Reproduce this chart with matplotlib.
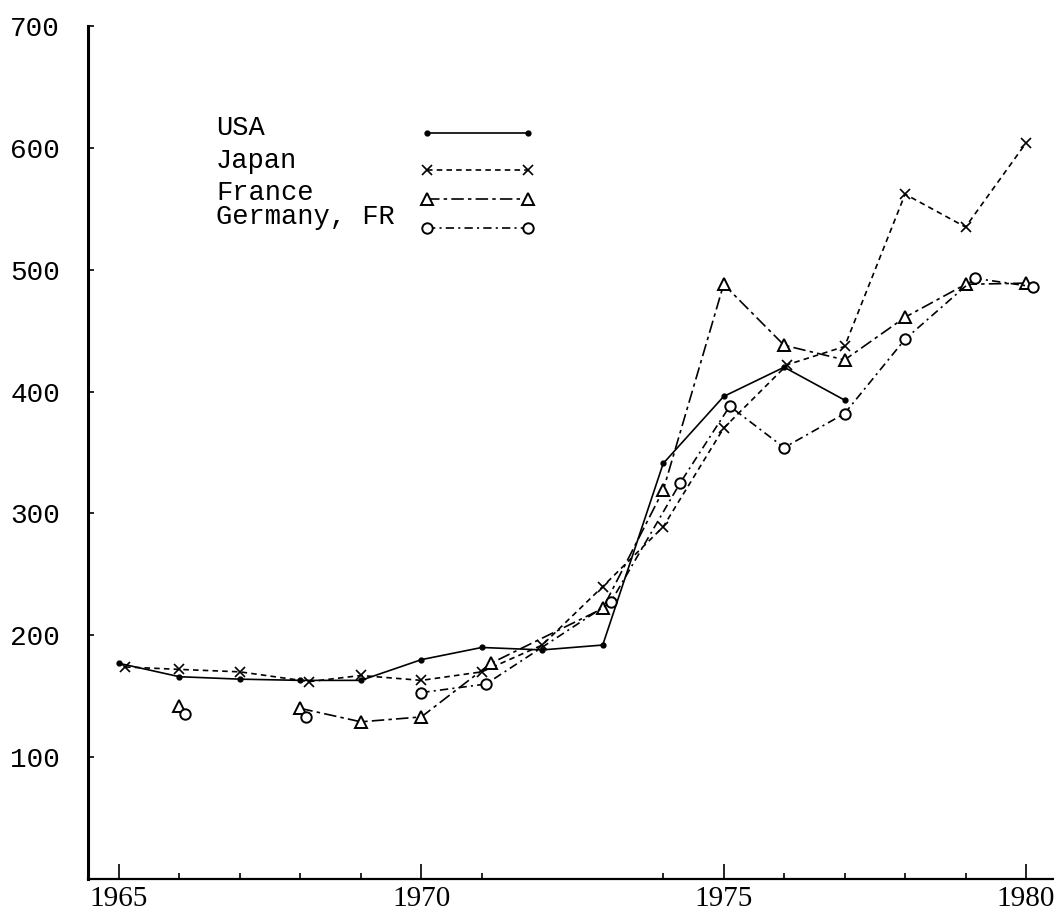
import numpy as np
import matplotlib
matplotlib.use("Agg")
import matplotlib.pyplot as plt
from matplotlib.lines import Line2D

# values (years slightly offset where the scan shows it)
usa_years = [1965, 1966, 1967, 1968, 1969, 1970, 1971, 1972, 1973, 1974, 1975, 1976, 1977]
usa = [177, 166, 164, 163, 163, 180, 190, 188, 192, 341, 396, 420, 393]

japan_years = [1965.1, 1966, 1967, 1968.15, 1969, 1970, 1971, 1972, 1973, 1974,
               1975, 1976.05, 1977, 1978, 1979, 1980]
japan = [174, 172, 170, 162, 167, 163, 170, 192, 240, 289, 370, 422, 437, 562, 535, 604]

# nan = break in the line
france_years = [1966, 1967, 1968, 1969, 1970, 1971.15, 1973, 1974, 1975, 1976, 1977,
                1978, 1979, 1980]
france = [142, np.nan, 140, 129, 133, 177, 222, 319, 488, 438, 426, 461, 488, 489]

germany_years = [1966.1, 1967, 1968.1, 1969, 1970, 1971.07, 1973.13, 1974.28, 1975.1,
                 1976, 1977, 1978, 1979.15, 1980.12]
germany = [135, np.nan, 133, np.nan, 153, 160, 227, 325, 388, 354, 382, 443, 493, 486]

series_names = ["USA", "Japan", "France", "Germany, FR"]
y_ticks = [100, 200, 300, 400, 500, 600, 700]
x_ticks = [1965, 1970, 1975, 1980]
x_minor = [1966, 1967, 1968, 1969, 1971, 1974, 1976, 1977, 1978, 1979]

plt.rcParams['lines.scale_dashes'] = False

W, H = 1054, 915
fig = plt.figure(figsize=(W / 100, H / 100), dpi=100)
ax = fig.add_axes([88 / W, 1 - 879 / H, (W - 88) / W, 853 / H])

styles = {
    "USA": dict(color="black", lw=1.2, ls="-", marker="o", ms=3.5, mfc="black"),
    "Japan": dict(color="black", lw=1.2, dashes=(4, 3), marker="x", ms=7, mew=1.2),
    "France": dict(color="black", lw=1.2, dashes=(9, 3, 2.5, 3), marker="^", ms=8,
                   mfc="white", mew=1.4),
    "Germany, FR": dict(color="black", lw=1.2, dashes=(6, 3, 1.5, 3), marker="o", ms=7.5,
                        mfc="white", mew=1.4),
}

ax.plot(usa_years, usa, **styles["USA"])
ax.plot(japan_years, japan, **styles["Japan"])
ax.plot(france_years, france, **styles["France"])
ax.plot(germany_years, germany, **styles["Germany, FR"])

ax.set_xlim(1965 - 31 / 60.5, 1980 + 28 / 60.5)
ax.set_ylim(0, 700)

for side in ["top", "right"]:
    ax.spines[side].set_visible(False)
ax.spines["left"].set_linewidth(2.2)
ax.spines["bottom"].set_linewidth(1.6)

ax.set_yticks(y_ticks)
ax.set_yticklabels([str(v) for v in y_ticks], family="Liberation Mono", fontsize=20)
ax.tick_params(axis="y", direction="in", length=4, width=1.2, pad=20)

ax.set_xticks(x_ticks)
ax.set_xticklabels([str(v) for v in x_ticks], family="Liberation Serif", fontsize=21)
ax.set_xticks(x_minor, minor=True)
ax.tick_params(axis="x", which="major", direction="in", length=11, width=1.2, pad=5)
ax.tick_params(axis="x", which="minor", direction="in", length=4.5, width=1.2)

# legend: text on the left, sample line on the right
legend_rows = [135, 168, 200, 224]
line_rows = [133, 170, 199, 228]
for name, ty, ly in zip(series_names, legend_rows, line_rows):
    fig.text(216 / W, 1 - ty / H, name, family="Liberation Mono", fontsize=19.5,
             va="baseline", ha="left")
    st = dict(styles[name])
    fig.add_artist(Line2D([427 / W, 528 / W], [1 - ly / H, 1 - ly / H],
                          transform=fig.transFigure, **st))

fig.savefig("out.png", dpi=100, facecolor="white")
